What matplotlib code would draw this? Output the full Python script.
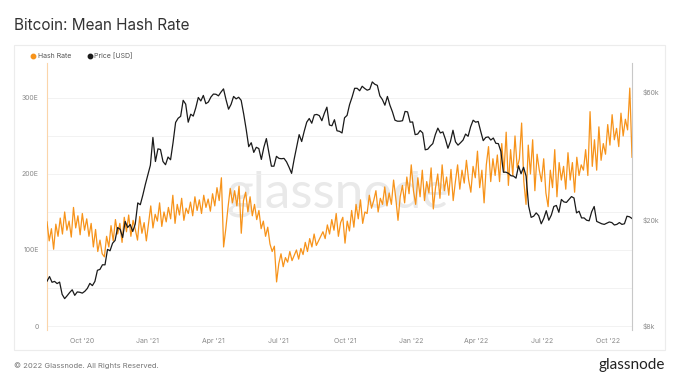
import matplotlib
matplotlib.use("Agg")
import matplotlib.pyplot as plt
from matplotlib.patches import Rectangle
from matplotlib.lines import Line2D
import pandas as pd

plt.rcParams['font.family'] = ['Inter', 'DejaVu Sans']

# ---------------- data ----------------
hash_start, hash_end = "2020-08-14", "2022-11-03"
hash_rate = [
    # Aug 2020
    137, 112, 128, 101, 134, 118,
    # Sep 2020
    142, 121, 150, 126, 138, 117, 156, 129, 145, 120,
    # Oct 2020
    148, 126, 141, 118, 135, 104, 127, 98, 113, 95,
    # Nov 2020
    91, 118, 104, 132, 112, 140, 121, 135, 110, 143,
    # Dec 2020
    124, 146, 118, 139, 127, 113, 144, 122, 136, 112,
    # Jan 2021
    135, 158, 129, 147, 138, 162, 131, 150, 137, 156,
    # Feb 2021
    141, 172, 135, 160, 146, 168, 139, 155, 148,
    # Mar 2021
    163, 145, 170, 152, 166, 148, 172, 156, 167, 151,
    # Apr 2021
    174, 158, 182, 165, 195, 104, 128, 156, 181, 162,
    # May 2021
    178, 158, 184, 122, 165, 176, 150, 170, 145, 160,
    # Jun 2021
    140, 152, 128, 138, 118, 130, 108, 98, 105, 58,
    # Jul 2021
    82, 95, 78, 90, 84, 98, 86, 93, 100, 88,
    # Aug 2021
    102, 94, 110, 98, 115, 104, 121, 106, 112, 118,
    # Sep 2021
    124, 115, 133, 121, 140, 126, 148, 118, 136, 143,
    # Oct 2021
    109, 138, 125, 152, 130, 160, 141, 166, 135, 150,
    # Nov 2021
    148, 172, 155, 165, 178, 150, 168, 160, 183, 158,
    # Dec 2021
    175, 160, 192, 168, 139, 170, 185, 162, 196, 174,
    # Jan 2022
    212, 178, 160, 195, 170, 205, 165, 190, 175, 208,
    # Feb 2022
    154, 182, 200, 168, 212, 178, 196, 172, 206,
    # Mar 2022
    165, 190, 212, 180, 205, 188, 218, 192, 176, 210,
    # Apr 2022
    195, 230, 182, 205, 162, 212, 236, 190, 220, 198,
    # May 2022
    225, 190, 240, 202, 255, 185, 232, 198, 250, 208,
    # Jun 2022
    220, 267, 190, 160, 238, 200, 245, 178, 226, 205,
    # Jul 2022
    190, 220, 175, 157, 205, 182, 232, 170, 215, 192,
    # Aug 2022
    210, 180, 228, 192, 215, 176, 222, 198, 212, 205,
    # Sep 2022
    232, 198, 282, 210, 245, 205, 262, 218, 240, 226,
    # Oct 2022
    265, 238, 278, 245, 260, 236, 280, 250, 272, 258,
    # Nov 2022
    313, 222,
]

# BTC price in $k, twice a week
price_start, price_end = "2020-08-14", "2022-11-03"
price_k = [
    # 2020
    11.77, 12.25, 11.66, 11.75, 11.53, 11.68, 10.51, 10.13, 10.39, 10.68,
    10.93, 10.42, 10.73, 10.70, 10.62, 10.79, 11.06, 11.55, 11.33, 11.75,
    12.93, 13.03, 13.56, 13.55, 15.48, 15.30, 16.32, 16.72, 18.68, 18.41,
    17.15, 19.70, 18.70, 19.18, 18.06, 19.27, 23.10, 22.75, 24.70, 27.08,
    # 2021
    29.40, 31.97, 40.60, 33.00, 36.80, 36.60, 33.00, 32.10, 34.30, 33.50,
    38.90, 46.20, 47.90, 48.70, 55.90, 54.10, 46.30, 49.60, 48.80, 52.40,
    57.30, 55.60, 58.30, 54.30, 55.10, 57.50, 59.00, 58.90, 58.10, 60.00,
    61.70, 56.20, 51.80, 54.00, 57.80, 56.60, 57.40, 55.90, 49.70, 43.50,
    37.50, 38.80, 35.70, 37.30, 36.90, 33.60, 37.30, 40.20, 35.60, 31.70,
    31.70, 34.50, 33.90, 33.80, 33.90, 32.90, 31.40, 29.80, 33.60, 37.30,
    41.60, 39.20, 42.80, 46.30, 47.80, 45.90, 49.30, 49.50, 49.00, 46.90,
    50.00, 52.70, 45.20, 44.90, 47.30, 43.00, 42.80, 42.20, 48.10, 49.10,
    53.90, 57.50, 62.00, 62.00, 60.70, 63.10, 61.90, 61.00, 61.50, 65.50,
    64.20, 63.60, 58.10, 56.30, 53.60, 57.80, 53.60, 50.60, 47.10, 46.70,
    46.70, 46.90, 50.80, 50.60, 46.30,
    # 2022
    46.40, 41.60, 41.80, 43.10, 42.20, 36.50, 36.70, 37.70, 38.50, 41.60,
    44.00, 42.20, 42.60, 40.00, 37.00, 39.20, 43.20, 39.10, 38.00, 38.80,
    39.70, 41.80, 41.00, 44.50, 47.10, 46.30, 46.60, 42.80, 39.50, 40.60,
    40.80, 39.70, 40.40, 38.60, 38.50, 36.00, 30.10, 30.10, 29.80, 29.20,
    29.10, 28.60, 31.80, 29.70, 31.40, 29.10, 22.50, 20.40, 20.60, 21.20,
    20.70, 19.30, 20.20, 21.60, 19.90, 20.80, 22.40, 22.60, 21.30, 23.80,
    23.30, 23.20, 23.80, 24.40, 24.10, 21.20, 21.50, 20.30, 20.30, 19.90,
    19.80, 21.40, 22.40, 19.70, 19.50, 19.30, 19.20, 19.40, 19.60, 19.50,
    19.10, 19.20, 19.50, 19.20, 19.30, 20.60, 20.50, 20.20,
]

xtick_dates = ["2020-10-01", "2021-01-01", "2021-04-01", "2021-07-01", "2021-10-01",
               "2022-01-01", "2022-04-01", "2022-07-01", "2022-10-01"]
xtick_labels = ["Oct '20", "Jan '21", "Apr '21", "Jul '21", "Oct '21",
                "Jan '22", "Apr '22", "Jul '22", "Oct '22"]
left_ticks = [0, 100, 200, 300]
left_labels = ["0", "100E", "200E", "300E"]
right_ticks = [8, 20, 60]
right_labels = ["$8k", "$20k", "$60k"]

hash_dates = pd.date_range(hash_start, hash_end, periods=len(hash_rate))
price_dates = pd.date_range(price_start, price_end, periods=len(price_k))

# ---------------- figure ----------------
W, H = 680, 383
fig = plt.figure(figsize=(W / 100, H / 100), dpi=100)
fig.patch.set_facecolor("white")

def fx(px):
    return px / W

def fy(py):
    return 1 - py / H

# card border (no fill, behind everything)
card = Rectangle((fx(14), fy(350)), fx(665) - fx(14), fy(45) - fy(350),
                 transform=fig.transFigure, facecolor="none",
                 edgecolor="#ececec", lw=0.8, zorder=-2)
fig.patches.append(card)

fig.text(fx(14), fy(25), "Bitcoin: Mean Hash Rate", fontsize=11, color="#333333",
         va="center", ha="left")

# legend
fig.add_artist(Line2D([fx(33)], [fy(56)], marker="o", markersize=3.2, color="#f7931a",
                      transform=fig.transFigure, lw=0))
fig.text(fx(37.5), fy(56), "Hash Rate", fontsize=5, color="#555555", va="center")
fig.add_artist(Line2D([fx(90)], [fy(56)], marker="o", markersize=3.2, color="#1a1a1a",
                      transform=fig.transFigure, lw=0))
fig.text(fx(94.5), fy(56), "Price [USD]", fontsize=5, color="#555555", va="center")

# watermark (behind the axes)
fig.text(fx(338), fy(194), "glassnode", fontsize=37, color="#e9e9e9", ha="center",
         va="center", zorder=-1, family=["Lato", "DejaVu Sans"])

ax_left, ax_right, ax_bottom, ax_top = 47, 632, 330, 63
ax = fig.add_axes([fx(ax_left), fy(ax_bottom), fx(ax_right) - fx(ax_left),
                   fy(ax_top) - fy(ax_bottom)])
ax.set_zorder(1)
ax.set_facecolor("none")

ax.plot(hash_dates, hash_rate, color="#f7931a", lw=0.9, zorder=3)
ax.set_ylim(-5.26, 346)
ax.set_xlim(pd.Timestamp(hash_start), pd.Timestamp(hash_end))
ax.set_yticks(left_ticks)
ax.set_yticklabels(left_labels)
ax.set_yticks([50, 150, 250], minor=True)
ax.grid(axis="y", which="both", color="#f0f0f0", lw=0.6)
ax.set_axisbelow(True)
ax.set_xticks(pd.to_datetime(xtick_dates))
ax.set_xticklabels(xtick_labels)
ax.tick_params(axis="both", which="both", length=0, labelsize=5, labelcolor="#8a8a8a")
ax.tick_params(axis="y", which="major", pad=6)
ax.tick_params(axis="x", pad=6)
for s in ["top", "right", "bottom"]:
    ax.spines[s].set_visible(False)
ax.spines["left"].set_color("#fbd5aa")
ax.spines["left"].set_linewidth(0.8)

ax2 = ax.twinx()
ax2.set_facecolor("none")
ax2.plot(price_dates, price_k, color="#1a1a1a", lw=0.9, zorder=4)
ax2.set_yscale("log")
ax2.set_ylim(7.73, 77.1)
ax2.set_yticks(right_ticks)
ax2.set_yticklabels(right_labels)
ax2.minorticks_off()
ax2.tick_params(axis="y", length=0, labelsize=5, labelcolor="#8a8a8a", pad=8)
for s in ["top", "left", "bottom"]:
    ax2.spines[s].set_visible(False)
ax2.spines["right"].set_color("#c8c8c8")
ax2.spines["right"].set_linewidth(0.8)
ax2.set_xlim(pd.Timestamp(hash_start), pd.Timestamp(hash_end))

# footer
fig.text(fx(14), fy(366), "\u00a9 2022 Glassnode. All Rights Reserved.", fontsize=5.5,
         color="#777777", va="center", ha="left")
fig.text(fx(665), fy(365), "glassnode", fontsize=11, color="#222222", va="center",
         ha="right", family=["Lato", "DejaVu Sans"])

fig.savefig("out.png", dpi=100, facecolor="white")
